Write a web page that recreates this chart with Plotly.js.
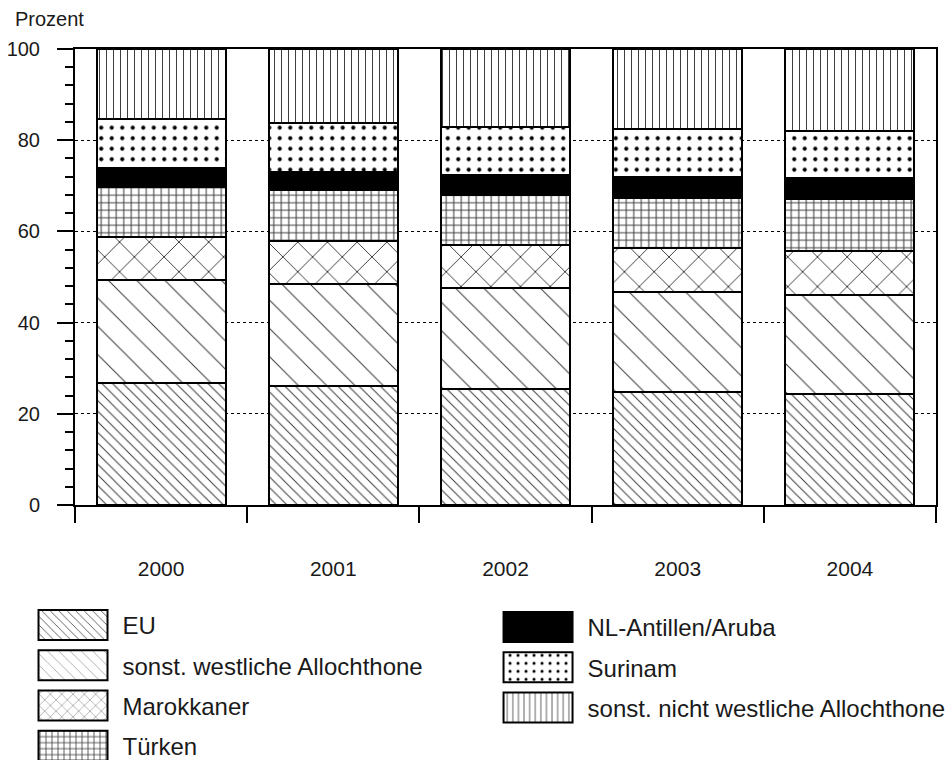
<!DOCTYPE html>
<html><head><meta charset="utf-8">
<script src="https://cdn.plot.ly/plotly-3.0.1.min.js"></script>
<style>body{margin:0;background:#fff}#chart{width:949px;height:760px}</style>
</head><body><div id="chart"></div>
<script>
// ---- data ----
const years = ['2000','2001','2002','2003','2004'];
const seriesNames = ['EU','sonst. westliche Allochthone','Marokkaner','Türken','NL-Antillen/Aruba','Surinam','sonst. nicht westliche Allochthone'];
const eu = [26.8,26.1,25.4,24.8,24.4];
const sonstWest = [22.5,22.4,22.2,22.0,21.6];
const marokkaner = [9.5,9.4,9.4,9.6,9.8];
const tuerken = [10.9,11.2,11.0,11.0,11.2];
const antillen = [4.3,3.9,4.4,4.6,4.8];
const surinam = [10.6,10.8,10.5,10.4,10.3];
const sonstNichtWest = [15.4,16.2,17.1,17.6,17.9];
const seriesValues = [eu, sonstWest, marokkaner, tuerken, antillen, surinam, sonstNichtWest];
const yTickStep = 20;
const yLabel = 'Prozent';

// ---- styles ----
const styles = [
  {shape:'\\', size:7.5, solidity:0.13, fg:'#3a3a3a', legend:'legend'},
  {shape:'\\', size:20, solidity:0.05, fg:'#3a3a3a', legend:'legend'},
  {shape:'x', size:21, solidity:0.09, fg:'#3a3a3a', legend:'legend'},
  {shape:'+', size:7.5, solidity:0.25, fg:'#3a3a3a', legend:'legend'},
  {solid:true, legend:'legend2'},
  {shape:'.', size:10.5, solidity:0.12, fg:'#000', legend:'legend2'},
  {shape:'|', size:7, solidity:0.14, fg:'#3a3a3a', legend:'legend2'}
];

const traces = seriesNames.map((name,i)=>{
  const s = styles[i];
  const marker = {line:{color:'#000', width:2}};
  if (s.solid) { marker.color = '#000'; }
  else {
    marker.color = '#fff';
    marker.pattern = {shape:s.shape, size:s.size, solidity:s.solidity, fgcolor:s.fg, bgcolor:'#fff', fillmode:'replace'};
  }
  return {type:'bar', name:name, x:years, y:seriesValues[i], marker:marker,
          legend:s.legend, legendgroup:'g'+i, hoverinfo:'name+y'};
});

const font = 'Liberation Sans, Arial, sans-serif';
const legendBase = {xanchor:'left', yanchor:'top', orientation:'v', font:{size:24, family:font},
          itemwidth:89, tracegroupgap:6, bgcolor:'rgba(0,0,0,0)', borderwidth:0, itemclick:false, itemdoubleclick:false};
const layout = {
  width:949, height:760,
  margin:{l:75, r:13, t:49, b:255, pad:0, autoexpand:false},
  barmode:'stack', bargap:0.25,
  paper_bgcolor:'#fff', plot_bgcolor:'#fff',
  font:{family:font, size:20, color:'#1a1a1a'},
  xaxis:{type:'category', range:[-0.5,4.5], showline:true, linewidth:2, linecolor:'#000', mirror:true,
         ticks:'outside', tickson:'boundaries', ticklen:16, tickwidth:2, tickcolor:'#000',
         ticklabelstandoff:44, tickfont:{size:21}, showgrid:false, zeroline:false, fixedrange:true},
  yaxis:{range:[0,100], tick0:0, dtick:yTickStep, ticks:'outside', ticklen:16, tickwidth:2, tickcolor:'#000',
         showline:true, linewidth:2, linecolor:'#000', mirror:true,
         showgrid:true, gridcolor:'#000', gridwidth:1, griddash:'dot', zeroline:false,
         ticklabelstandoff:13, fixedrange:true,
         minor:{tick0:0, dtick:4, ticks:'outside', ticklen:8, tickwidth:2, tickcolor:'#000', showgrid:false}},
  showlegend:true,
  legend:Object.assign({x:-0.0598, y:-0.2149}, legendBase),
  legend2:Object.assign({x:0.4803, y:-0.2193}, legendBase),
  annotations:[{text:yLabel, xref:'paper', yref:'paper', x:-0.0724, y:1.066, xanchor:'left', yanchor:'middle',
                showarrow:false, font:{size:20, family:font}}]
};

const gd = document.getElementById('chart');
function fixLegend(){
  gd.querySelectorAll('g.legendpoints path').forEach(p=>{ p.setAttribute('d','M-34.5,-15h69v30h-69Z'); });
}
Plotly.newPlot(gd, traces, layout, {displayModeBar:false}).then(()=>{
  fixLegend();
  gd.on('plotly_afterplot', fixLegend);
});
</script></body></html>
